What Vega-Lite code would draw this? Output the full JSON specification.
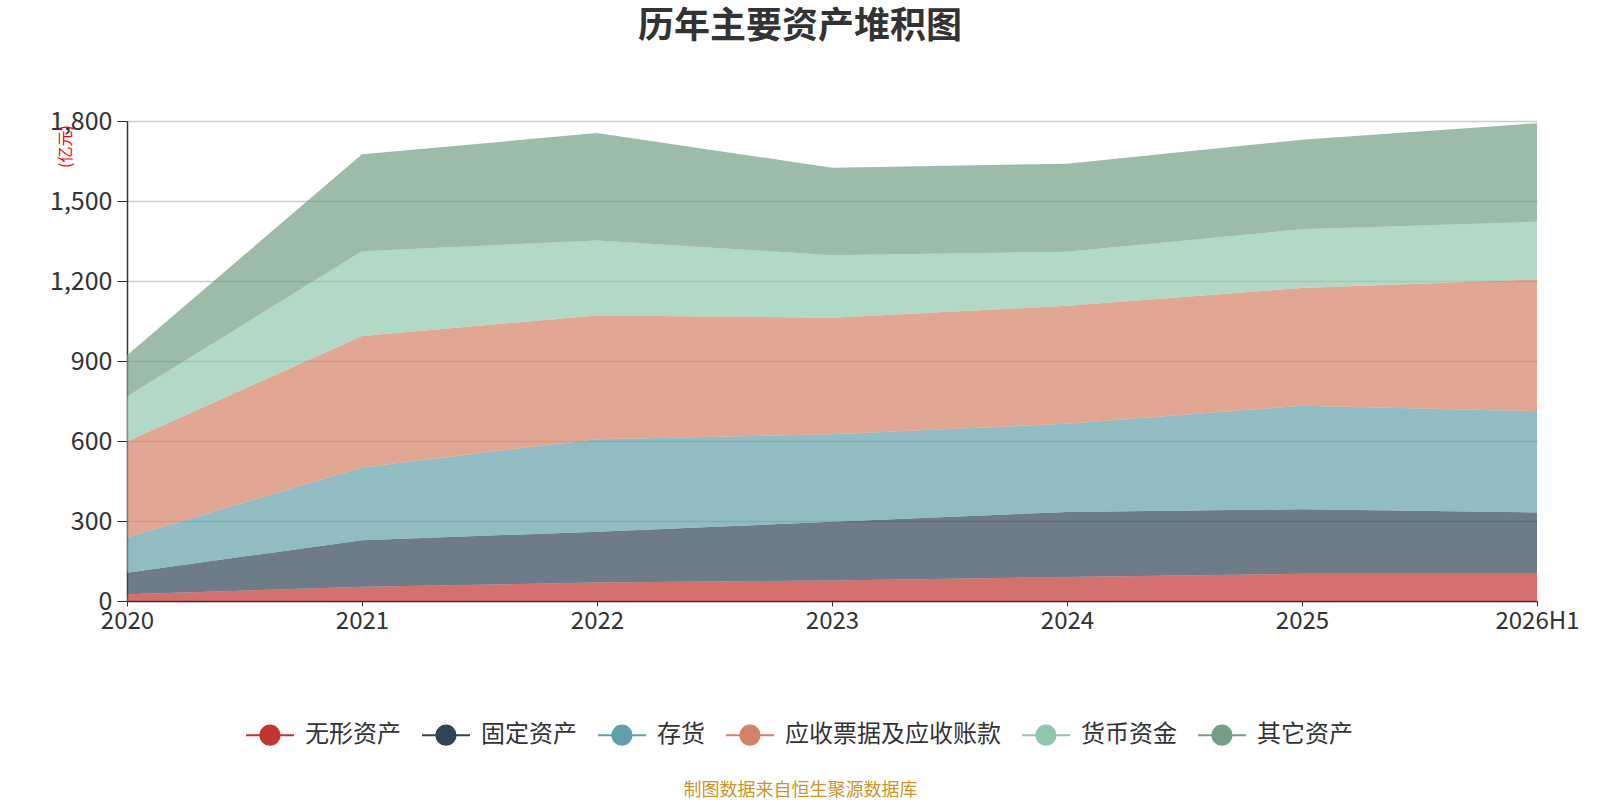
{
  "$schema": "https://vega.github.io/schema/vega-lite/v6.json",
  "autosize": "none",
  "width": 1410,
  "height": 480,
  "padding": {"left": 127, "top": 121, "right": 63, "bottom": 199},
  "background": "white",
  "config": {
    "font": "Noto Sans CJK SC",
    "view": {"stroke": null}
  },
  "title": {
    "text": "历年主要资产堆积图",
    "anchor": "middle",
    "fontSize": 36,
    "fontWeight": "bold",
    "color": "#333333",
    "dx": -32,
    "offset": 63
  },
  "data": {
    "values": [
      {"year": "2020", "type": "无形资产", "k": 1, "value": 25},
      {"year": "2020", "type": "固定资产", "k": 2, "value": 81},
      {"year": "2020", "type": "存货", "k": 3, "value": 132},
      {"year": "2020", "type": "应收票据及应收账款", "k": 4, "value": 360},
      {"year": "2020", "type": "货币资金", "k": 5, "value": 169},
      {"year": "2020", "type": "其它资产", "k": 6, "value": 155},
      {"year": "2021", "type": "无形资产", "k": 1, "value": 53},
      {"year": "2021", "type": "固定资产", "k": 2, "value": 175},
      {"year": "2021", "type": "存货", "k": 3, "value": 273},
      {"year": "2021", "type": "应收票据及应收账款", "k": 4, "value": 493},
      {"year": "2021", "type": "货币资金", "k": 5, "value": 318},
      {"year": "2021", "type": "其它资产", "k": 6, "value": 363},
      {"year": "2022", "type": "无形资产", "k": 1, "value": 69},
      {"year": "2022", "type": "固定资产", "k": 2, "value": 191},
      {"year": "2022", "type": "存货", "k": 3, "value": 347},
      {"year": "2022", "type": "应收票据及应收账款", "k": 4, "value": 464},
      {"year": "2022", "type": "货币资金", "k": 5, "value": 281},
      {"year": "2022", "type": "其它资产", "k": 6, "value": 403},
      {"year": "2023", "type": "无形资产", "k": 1, "value": 77},
      {"year": "2023", "type": "固定资产", "k": 2, "value": 220},
      {"year": "2023", "type": "存货", "k": 3, "value": 328},
      {"year": "2023", "type": "应收票据及应收账款", "k": 4, "value": 437},
      {"year": "2023", "type": "货币资金", "k": 5, "value": 235},
      {"year": "2023", "type": "其它资产", "k": 6, "value": 328},
      {"year": "2024", "type": "无形资产", "k": 1, "value": 90},
      {"year": "2024", "type": "固定资产", "k": 2, "value": 244},
      {"year": "2024", "type": "存货", "k": 3, "value": 331},
      {"year": "2024", "type": "应收票据及应收账款", "k": 4, "value": 442},
      {"year": "2024", "type": "货币资金", "k": 5, "value": 203},
      {"year": "2024", "type": "其它资产", "k": 6, "value": 330},
      {"year": "2025", "type": "无形资产", "k": 1, "value": 102},
      {"year": "2025", "type": "固定资产", "k": 2, "value": 242},
      {"year": "2025", "type": "存货", "k": 3, "value": 388},
      {"year": "2025", "type": "应收票据及应收账款", "k": 4, "value": 442},
      {"year": "2025", "type": "货币资金", "k": 5, "value": 220},
      {"year": "2025", "type": "其它资产", "k": 6, "value": 336},
      {"year": "2026H1", "type": "无形资产", "k": 1, "value": 102},
      {"year": "2026H1", "type": "固定资产", "k": 2, "value": 230},
      {"year": "2026H1", "type": "存货", "k": 3, "value": 380},
      {"year": "2026H1", "type": "应收票据及应收账款", "k": 4, "value": 494},
      {"year": "2026H1", "type": "货币资金", "k": 5, "value": 216},
      {"year": "2026H1", "type": "其它资产", "k": 6, "value": 370}
    ]
  },
  "mark": {"type": "area", "opacity": 0.7, "strokeWidth": 0},
  "encoding": {
    "x": {
      "field": "year",
      "type": "ordinal",
      "scale": {"type": "point", "padding": 0},
      "axis": {
        "title": "制图数据来自恒生聚源数据库",
        "titleColor": "#c9962d",
        "titleFontSize": 18,
        "titleFontWeight": "normal",
        "titleX": 673,
        "titleY": 189,
        "titleAlign": "center",
        "titleBaseline": "middle",
        "labelAngle": 0,
        "labelFontSize": 24,
        "labelColor": "#333333",
        "labelPadding": 3,
        "tickSize": 5,
        "tickColor": "#333333",
        "domainColor": "#333333",
        "domainWidth": 1.5,
        "grid": false
      }
    },
    "y": {
      "field": "value",
      "type": "quantitative",
      "stack": "zero",
      "scale": {"domain": [0, 1800], "nice": false},
      "axis": {
        "title": "(亿元)",
        "titleColor": "#ff0000",
        "titleFontSize": 16,
        "titleFontWeight": "normal",
        "titleAngle": -90,
        "titleX": -62,
        "titleY": 25,
        "titleAlign": "center",
        "titleBaseline": "middle",
        "values": [0, 300, 600, 900, 1200, 1500, 1800],
        "format": ",d",
        "labelFontSize": 25,
        "labelColor": "#333333",
        "labelPadding": 5,
        "tickSize": 10,
        "tickColor": "#333333",
        "domainColor": "#333333",
        "domainWidth": 1.5,
        "gridColor": "#cccccc",
        "gridWidth": 1.5
      }
    },
    "color": {
      "field": "type",
      "type": "nominal",
      "scale": {
        "domain": ["无形资产", "固定资产", "存货", "应收票据及应收账款", "货币资金", "其它资产"],
        "range": ["#c23531", "#2f4554", "#61a0a8", "#d48265", "#91c7ae", "#749f83"]
      },
      "legend": {
        "title": null,
        "orient": "none",
        "direction": "horizontal",
        "legendX": 118,
        "legendY": 589,
        "symbolType": "M-1,0L1,0M-0.4,0A0.4,0.4,0,1,1,0.4,0A0.4,0.4,0,1,1,-0.4,0Z",
        "symbolSize": 2304,
        "symbolOpacity": 1,
        "symbolStrokeWidth": 2,
        "labelFontSize": 24,
        "labelLimit": 400,
        "labelColor": "#333333",
        "labelOffset": 10,
        "columnPadding": 17,
        "encode": {
          "symbols": {"update": {"stroke": {"scale": "color", "field": "value"}, "fill": {"scale": "color", "field": "value"}, "opacity": {"value": 1}}}
        }
      }
    },
    "order": {"field": "k", "type": "quantitative"}
  }
}
